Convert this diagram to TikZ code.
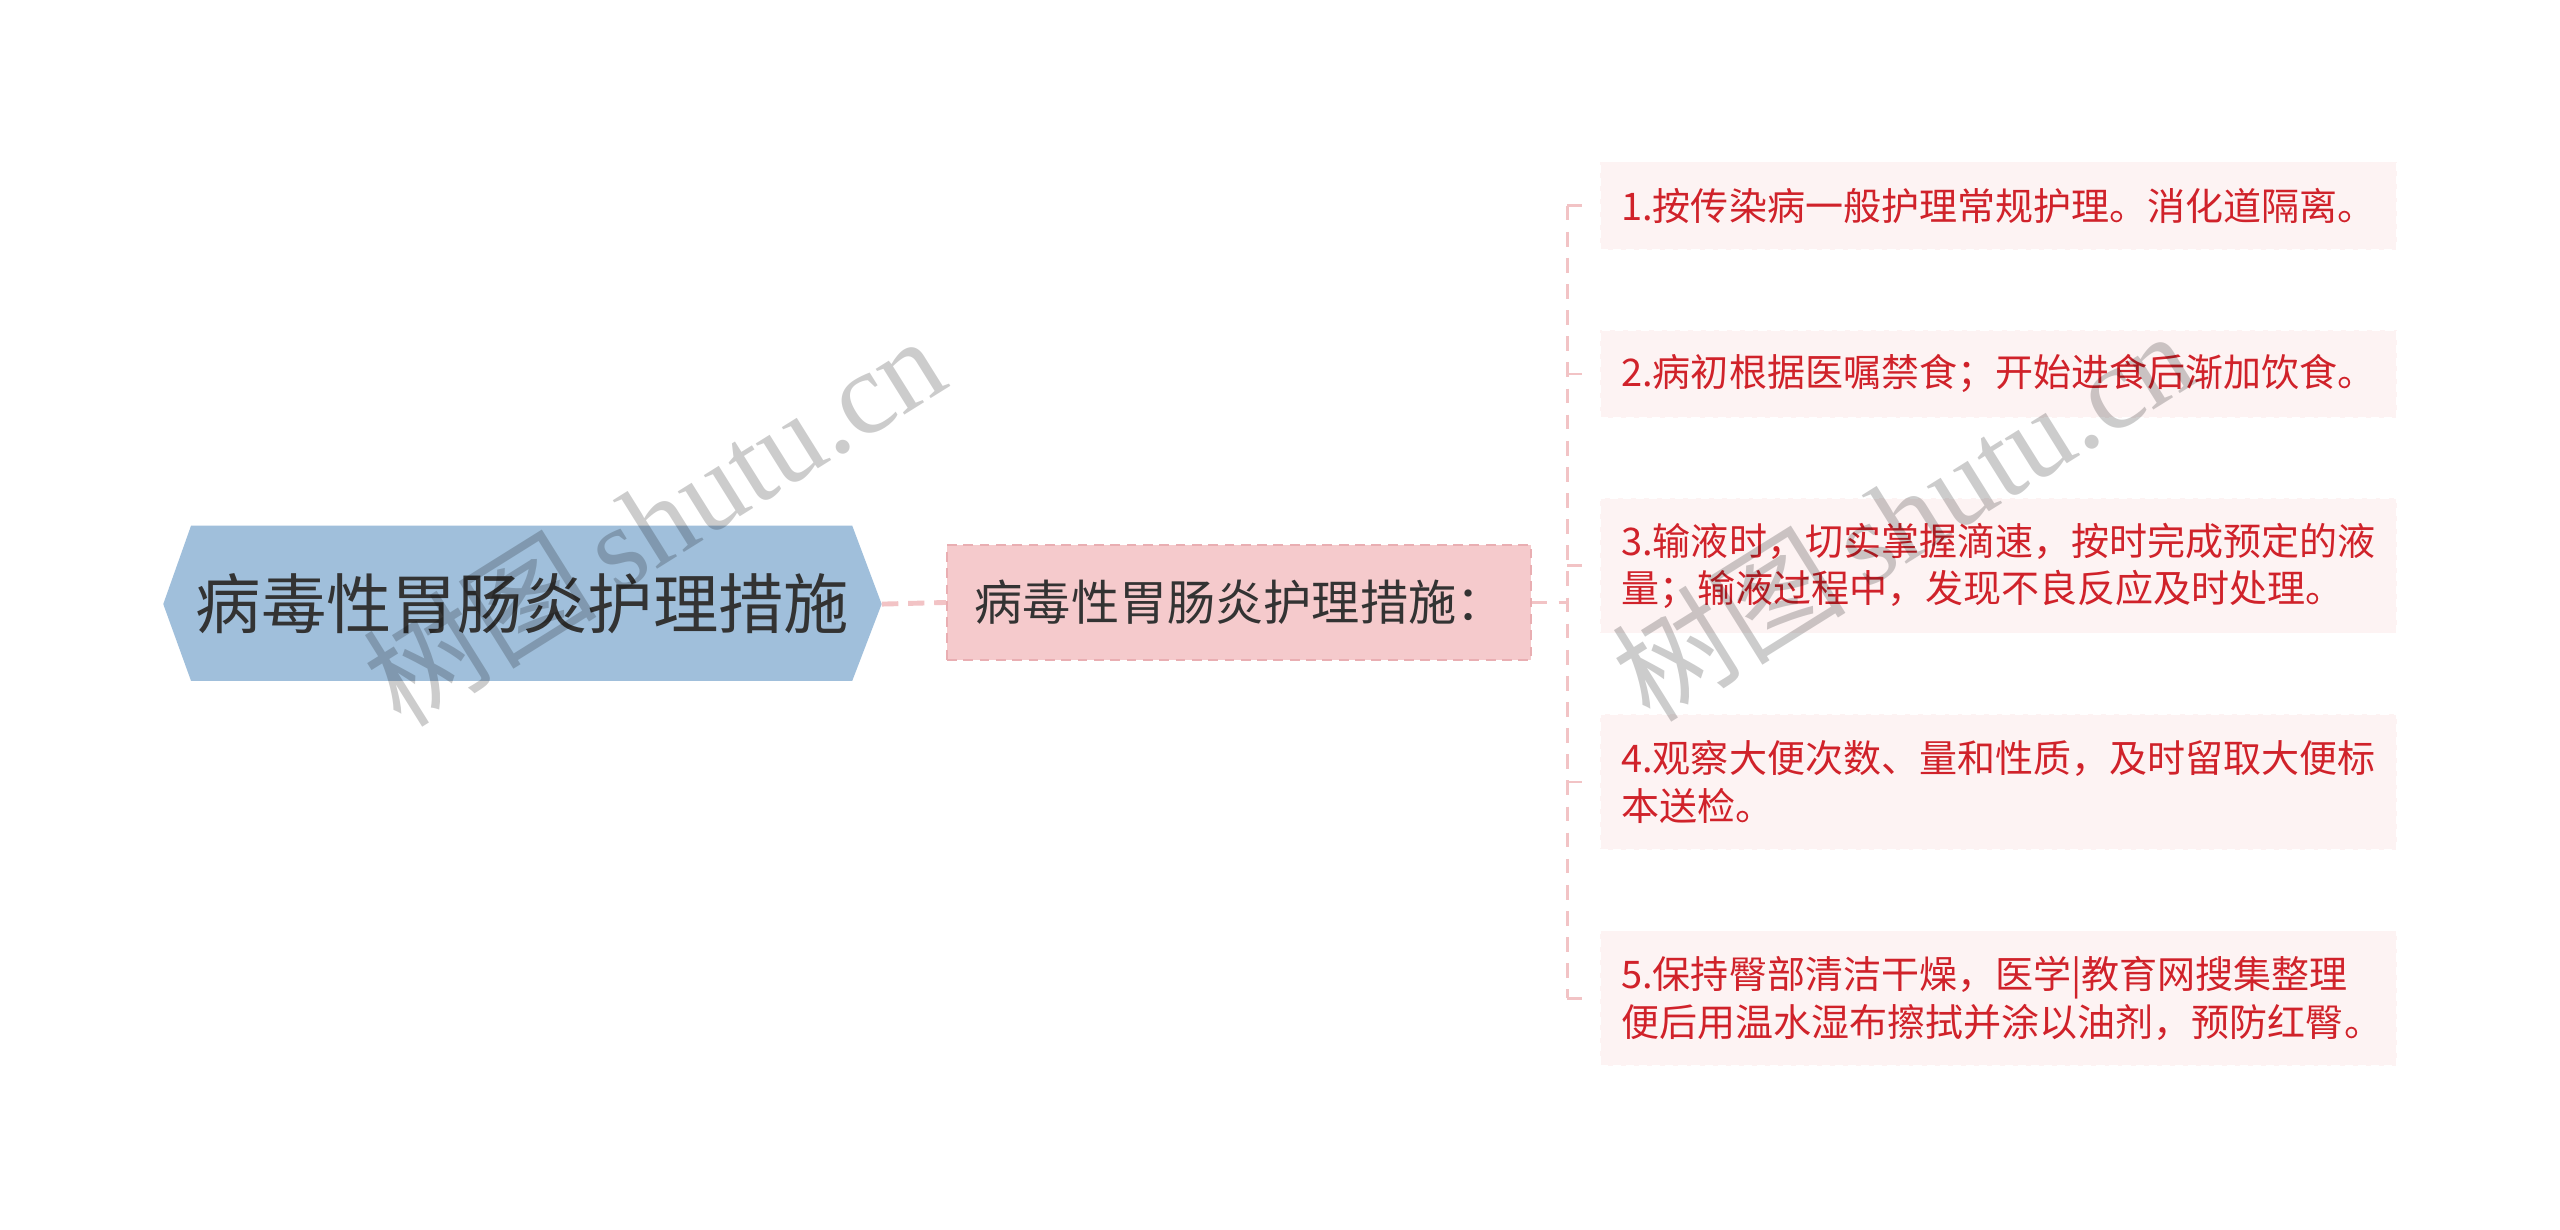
\documentclass[tikz,border=0pt]{standalone}
\usepackage{fontspec}
\setmainfont{Noto Sans CJK SC}
\newfontfamily\wmserif{Liberation Serif}
\usetikzlibrary{positioning}
\definecolor{rootblue}{HTML}{A0BFDB}
\definecolor{midpink}{HTML}{F5CACC}
\definecolor{midborder}{HTML}{E9AEB2}
\definecolor{itemfill}{HTML}{FDF3F3}
\definecolor{itemred}{HTML}{D0222A}
\definecolor{linkpink}{HTML}{F2C3C5}
\definecolor{txtdark}{HTML}{333333}
\tikzset{
  roottext/.style={minimum width=440pt, minimum height=95pt, inner sep=0pt, text=txtdark, font=\fontsize{40pt}{48pt}\selectfont},
  midbox/.style={rectangle, fill=midpink, draw=midborder, line width=1.2pt, dash pattern=on 6pt off 4pt, minimum width=358pt, minimum height=70pt, text width=324pt, inner xsep=17pt, inner ysep=0pt, align=left, text=txtdark, font=\fontsize{29.5pt}{34pt}\selectfont},
  itembox/.style={rectangle, fill=itemfill, draw=white, line width=1pt, dash pattern=on 5pt off 3pt, text width=462pt, inner xsep=13pt, inner ysep=0pt, align=left, text=itemred, font=\fontsize{23.3pt}{29pt}\selectfont},
  onel/.style={minimum height=54pt},
  twol/.style={minimum height=83pt},
  mainlink/.style={draw=linkpink, line width=3pt, dash pattern=on 10pt off 6pt},
  sublink/.style={draw=linkpink, line width=1.6pt, dash pattern=on 9pt off 7pt},
  wm/.style={text=black, text opacity=0.2, font=\fontsize{72pt}{80pt}\selectfont, inner sep=0pt}
}
\begin{document}
\begin{tikzpicture}[x=1pt,y=-1pt]
\useasboundingbox (0,0) rectangle (1568,753);
\fill[white] (0,0) rectangle (1568,753);
% root hexagon
\fill[rootblue] (100,370) -- (117,322) -- (522,322) -- (540,370) -- (522,417) -- (117,417) -- cycle;
\node[roottext] (root) at (320,370) {病毒性胃肠炎护理措施};
% middle node
\node[midbox] (mid) at (759,369) {病毒性胃肠炎护理措施：};
% items
\node[itembox, onel] (i1) at (1224,126) {1.按传染病一般护理常规护理。消化道隔离。};
\node[itembox, onel] (i2) at (1224,229) {2.病初根据医嘱禁食；开始进食后渐加饮食。};
\node[itembox, twol] (i3) at (1224,346.5) {3.输液时，切实掌握滴速，按时完成预定的液\\量；输液过程中，发现不良反应及时处理。};
\node[itembox, twol] (i4) at (1224,479) {4.观察大便次数、量和性质，及时留取大便标\\本送检。};
\node[itembox, twol] (i5) at (1224,611.5) {5.保持臀部清洁干燥，医学|教育网搜集整理\\便后用温水湿布擦拭并涂以油剂，预防红臀。};
% connectors
\draw[mainlink] (root.east) -- (mid.west);
\coordinate (bus) at (960,369);
\draw[sublink] (mid.east) -- (bus);
\draw[sublink] (bus |- i1.west) -- (bus |- i5.west);
\foreach \n in {i1,i2,i3,i4,i5}{
  \draw[sublink] (bus |- \n.west) -- ([xshift=-5pt]\n.west);
}
% watermarks
\node[wm, rotate=32] (wm1) at (400,318) {树图\,{\wmserif shutu.cn}};
\node[wm, rotate=32] (wm2) at (1165,315) {树图\,{\wmserif shutu.cn}};
\end{tikzpicture}
\end{document}
